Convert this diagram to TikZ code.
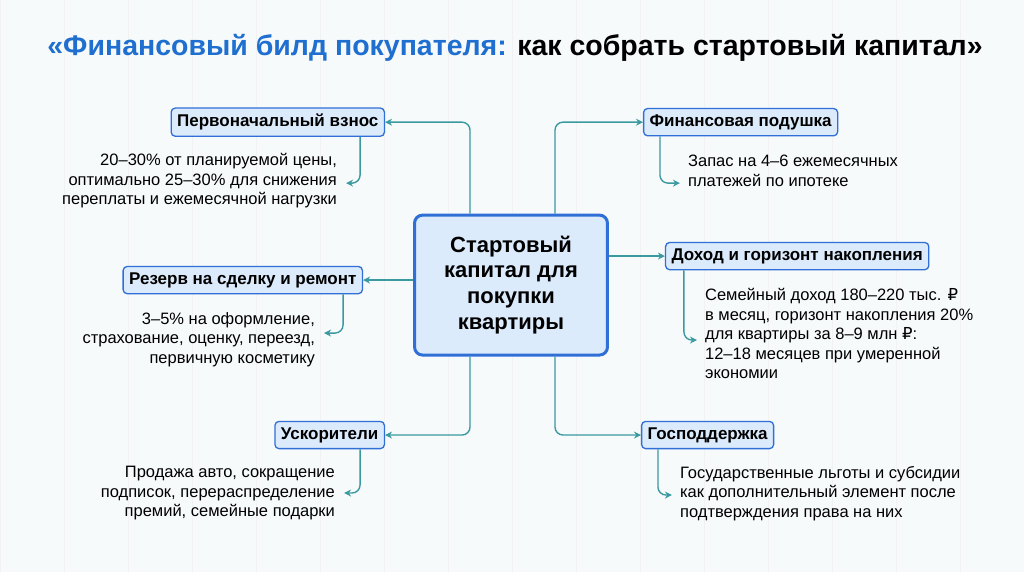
\documentclass[tikz,border=0pt]{standalone}
\usepackage{fontspec}
\setmainfont{Liberation Sans}
\newfontfamily\rubfont{DejaVu Sans}
\newcommand{\rub}{{\rubfont ₽}}
\usetikzlibrary{arrows.meta}
\definecolor{boxfill}{HTML}{DCEBFC}
\definecolor{boxline}{HTML}{2F6FD6}
\definecolor{link}{HTML}{3A9AA0}
\definecolor{titleblue}{HTML}{1F6FD0}
\definecolor{bg}{HTML}{F7FAFB}
\begin{document}
\begin{tikzpicture}[x=1pt,y=-1pt,
    topic/.style={draw=boxline, fill=boxfill, rounded corners=4pt, line width=1.3pt,
      inner sep=6pt, font=\fontsize{17}{20}\selectfont\bfseries},
    core/.style={draw=boxline, fill=boxfill, rounded corners=8pt, line width=3pt,
      minimum width=193pt, minimum height=140pt, align=center,
      font=\fontsize{22}{26}\selectfont\bfseries},
    note/.style={font=\fontsize{16.5}{19.5}\selectfont, inner sep=0pt},
    link/.style={draw=link, line width=1.4pt, rounded corners=8pt, -{Stealth[length=7pt,width=7pt]}}]
    \fill[bg] (0,0) rectangle (1024,572);
    \draw[black!5] (0,0) grid[step=64] (1024,572);
    \useasboundingbox (0,0) rectangle (1024,572);
    % title
    \node (title) at (515,48) {\fontsize{28.5}{32}\selectfont\bfseries\textcolor{titleblue}{«Финансовый билд покупателя:} как собрать стартовый капитал»};
    % centre
    \node[core] (core) at (511,285) {Стартовый\\капитал для\\покупки\\квартиры};
    % topics
    \node[topic, anchor=east] (down) at (385,122) {Первоначальный взнос};
    \node[topic, anchor=east] (reserve) at (363,280) {Резерв на сделку и ремонт};
    \node[topic, anchor=east] (boost) at (385,435) {Ускорители};
    \node[topic, anchor=west] (cushion) at (643,122) {Финансовая подушка};
    \node[topic, anchor=west] (income) at (665,256) {Доход и горизонт накопления};
    \node[topic, anchor=west] (state) at (641,435) {Господдержка};
    % notes
    \node[note, anchor=north east, align=right] (downtxt) at (337,153) {20–30\% от планируемой цены,\\оптимально 25–30\% для снижения\\переплаты и ежемесячной нагрузки};
    \node[note, anchor=north east, align=right] (reservetxt) at (315,312) {3–5\% на оформление,\\страхование, оценку, переезд,\\первичную косметику};
    \node[note, anchor=north east, align=right] (boosttxt) at (335,466) {Продажа авто, сокращение\\подписок, перераспределение\\премий, семейные подарки};
    \node[note, anchor=north west, align=left] (cushiontxt) at (688,155) {Запас на 4–6 ежемесячных\\платежей по ипотеке};
    \node[note, anchor=north west, align=left] (incometxt) at (705,288) {Семейный доход 180–220 тыс. \rub\\в месяц, горизонт накопления 20\%\\для квартиры за 8–9 млн \rub:\\12–18 месяцев при умеренной\\экономии};
    \node[note, anchor=north west, align=left] (statetxt) at (680,466) {Государственные льготы и субсидии\\как дополнительный элемент после\\подтверждения права на них};
    % links from the centre
    \draw[link] ([xshift=-41pt]core.north) |- (down);
    \draw[link] ([xshift=44pt]core.north) |- (cushion);
    \draw[link] (core.west |- reserve) -- (reserve);
    \draw[link] (core.east |- income) -- (income);
    \draw[link] ([xshift=-41pt]core.south) |- (boost);
    \draw[link] ([xshift=44pt]core.south) |- (state);
    % links to the notes
    \coordinate (d1) at (346,183); \coordinate (r1) at (324,333);
    \coordinate (b1) at (344,493); \coordinate (c1) at (680,183);
    \coordinate (i1) at (697,340); \coordinate (s1) at (672,495);
    \draw[link] (down.south -| 360,0) |- (d1);
    \draw[link] (reserve.south -| 343,0) |- (r1);
    \draw[link] (boost.south -| 360,0) |- (b1);
    \draw[link] (cushion.south -| 660,0) |- (c1);
    \draw[link] (income.south -| 684,0) |- (i1);
    \draw[link] (state.south -| 658,0) |- (s1);
\end{tikzpicture}
\end{document}
